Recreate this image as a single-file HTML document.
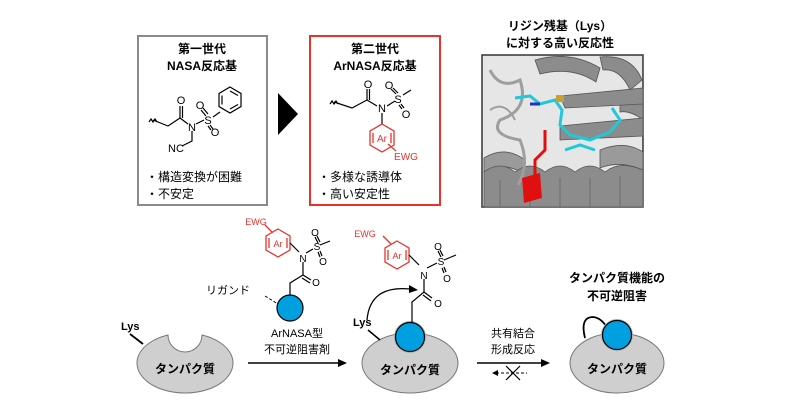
<!DOCTYPE html>
<html><head><meta charset="utf-8"><style>
html,body{margin:0;padding:0;background:#fff;width:800px;height:418px;overflow:hidden}
svg text{font-family:"Liberation Sans","Noto Sans CJK JP",sans-serif}
</style></head><body>
<svg width="800" height="418" viewBox="0 0 800 418" xmlns="http://www.w3.org/2000/svg">
<!-- Box 1 -->
<rect x="138" y="36" width="129" height="169" fill="#fff" stroke="#8a8a8a" stroke-width="2"/>
<text x="202" y="53" font-size="12" font-weight="bold" text-anchor="middle">第一世代</text>
<text x="202" y="70" font-size="12" font-weight="bold" text-anchor="middle">NASA反応基</text>
<g stroke="#000" stroke-width="1.2" fill="none">
<path d="M149,122 l2,-3 l2,3 l2,-3 l2,3"/>
<path d="M153,120 L168,126 L180,118"/>
<path d="M180,118 L180,106 M182.5,118 L182.5,106"/>
<path d="M180,118 L188,124"/>
<path d="M196,124 L204,120"/>
<path d="M192,131 L192,141 L182,146"/>
<path d="M206,116 L201,110 M208,114 L203,108"/>
<path d="M210,125 L213,129 M208,126 L211,130"/>
<path d="M213,117 L220,112"/>
<polygon points="230,87 241,93.5 241,106.5 230,113 219,106.5 219,93.5"/>
<path d="M230,91 L238,95.5 M238,104.5 L230,109 M222,104.5 L222,95.5"/>
</g>
<g font-size="11" text-anchor="middle">
<text x="181" y="104">O</text><text x="192" y="131">N</text><text x="208" y="124">S</text>
<text x="200" y="109">O</text><text x="215" y="136">O</text><text x="176" y="152">NC</text>
</g>
<text x="146" y="181" font-size="12">・構造変換が困難</text>
<text x="146" y="198" font-size="12">・不安定</text>
<!-- triangle -->
<polygon points="278,93 298,114 278,135" fill="#000"/>
<!-- Box 2 -->
<rect x="310" y="36" width="130" height="169" fill="#fff" stroke="#e8322a" stroke-width="2"/>
<text x="375" y="53" font-size="12" font-weight="bold" text-anchor="middle">第二世代</text>
<text x="375" y="70" font-size="12" font-weight="bold" text-anchor="middle">ArNASA反応基</text>
<g stroke="#000" stroke-width="1.2" fill="none">
<path d="M330,104 l2,-3 l2,3 l2,-3 l2,3"/>
<path d="M334,102 L352,108 L367,100"/>
<path d="M367,100 L367,89 M369.5,100 L369.5,89"/>
<path d="M367,100 L377,106"/>
<path d="M387,106 L395,101"/>
<path d="M396,94 L391,89 M398,93 L393,88"/>
<path d="M401,104 L404,108 M399,105 L402,109"/>
<path d="M403,95 L411,90"/>
<path d="M382,113 L382,124"/>
</g>
<g stroke="#e8322a" stroke-width="1.3" fill="none">
<polygon points="382,124 394,131 394,145 382,152 370,145 370,131"/>
<path d="M373,133 L373,143 M391,133 L391,143"/>
<path d="M388,144 L396,151"/>
</g>
<g font-size="11" text-anchor="middle">
<text x="368" y="88">O</text><text x="382" y="112">N</text><text x="398" y="103">S</text>
<text x="389" y="89">O</text><text x="406" y="118">O</text>
</g>
<text x="382" y="142" font-size="10" fill="#e8322a" text-anchor="middle">Ar</text>
<text x="406" y="160" font-size="10" fill="#e8322a" text-anchor="middle">EWG</text>
<text x="318" y="181" font-size="12">・多様な誘導体</text>
<text x="318" y="198" font-size="12">・高い安定性</text>
<!-- protein structure image -->
<text x="560" y="30" font-size="12" font-weight="bold" text-anchor="middle">リジン残基（Lys）</text>
<text x="560" y="47" font-size="12" font-weight="bold" text-anchor="middle">に対する高い反応性</text>
<rect x="482" y="55" width="161" height="152" fill="#e6e6e6" stroke="#333" stroke-width="1.5"/>
<g fill="#8c8c8c" stroke="#555" stroke-width="0.8">
<path d="M535,60 Q570,50 600,68 L596,82 Q572,66 540,74 Z"/>
<path d="M600,57 Q632,54 642,80 L630,90 Q620,68 603,70 Z"/>
<path d="M620,92 Q640,85 643,100 L643,120 Q630,110 620,112 Z"/>
<path d="M560,96 L643,88 L643,104 L565,108 Z"/>
<path d="M560,126 L643,118 L643,136 L560,140 Z"/>
<path d="M484,158 Q505,145 525,160 L525,175 Q505,160 484,172 Z" fill="#9a9a9a"/>
<path d="M484,172 Q500,160 515,172 Q530,160 545,172 Q560,160 575,172 Q590,160 605,172 Q620,160 643,170 L643,207 L484,207 Z"/>
<path d="M600,150 Q625,140 643,152 L643,170 Q620,160 600,168 Z" fill="#9a9a9a"/>
</g>
<g fill="none" stroke="#6c6c6c" stroke-width="1">
<path d="M500,180 L500,207 M530,178 L530,207 M560,178 L560,207 M590,178 L590,207 M620,176 L620,207"/>
</g>
<path d="M490,70 Q500,90 520,80 Q530,110 500,120 Q490,135 520,140 Q530,165 518,185" fill="none" stroke="#9e9e9e" stroke-width="3"/>
<path d="M490,110 Q505,100 515,120" fill="none" stroke="#9e9e9e" stroke-width="2"/>
<path d="M522,178 L540,173 L542,198 L524,203 Z" fill="#e01010"/>
<path d="M535,178 L535,160 L545,150 L545,130" fill="none" stroke="#e01010" stroke-width="3"/>
<g fill="none" stroke="#22c8d8" stroke-width="3">
<path d="M515,98 L530,96 L540,104 L555,100 L562,110 L560,125 L570,135 L590,140 L610,132 L620,120 L612,108"/>
<path d="M565,150 L580,145 L595,150"/>
</g>
<path d="M530,104 L540,104" stroke="#2233bb" stroke-width="3"/>
<rect x="556" y="95" width="8" height="7" fill="#c8a030"/>
<!-- Bottom: left protein -->
<path d="M168,335 A48,30 0 1,0 202,335 A17,17 0 0,1 168,335 Z" fill="#cfcfcf" stroke="#777" stroke-width="1"/>
<text x="121" y="330" font-size="11" font-weight="bold">Lys</text>
<line x1="130" y1="334" x2="143" y2="344" stroke="#000" stroke-width="1.8"/>
<text x="185" y="373" font-size="12" font-weight="bold" text-anchor="middle">タンパク質</text>
<!-- reagent -->
<g stroke="#e8322a" stroke-width="1.3" fill="none">
<polygon points="278,229 290,236 290,250 278,257 266,250 266,236"/>
<path d="M269,238 L269,248 M287,238 L287,248"/>
<path d="M272,232 L265,225"/>
</g>
<text x="278" y="247" font-size="9" fill="#e8322a" text-anchor="middle">Ar</text>
<text x="256" y="225" font-size="9" fill="#e8322a" text-anchor="middle">EWG</text>
<g stroke="#000" stroke-width="1.2" fill="none">
<path d="M290,243 L299,252"/>
<path d="M306,253 L313,249"/>
<path d="M318,243 L315,237 M320,242 L317,236"/>
<path d="M320,251 L322,256 M318,252 L320,257"/>
<path d="M320,245 L330,241"/>
<path d="M303,262 L303,275"/>
<path d="M303,275 L311,280 M302,278 L310,283"/>
<path d="M303,275 L290,283 L290,296"/>
</g>
<g font-size="10" text-anchor="middle">
<text x="303" y="262">N</text><text x="317" y="250">S</text>
<text x="315" y="236">O</text><text x="323" y="265">O</text><text x="316" y="286">O</text>
</g>
<circle cx="290" cy="308" r="13" fill="#00a0e0" stroke="#000" stroke-width="1.2"/>
<text x="206" y="294" font-size="11">リガンド</text>
<line x1="265" y1="296" x2="278" y2="304" stroke="#000" stroke-width="1" stroke-dasharray="3,2"/>
<text x="297" y="337" font-size="11" text-anchor="middle">ArNASA型</text>
<text x="297" y="353" font-size="11" text-anchor="middle">不可逆阻害剤</text>
<line x1="248" y1="363" x2="340" y2="363" stroke="#000" stroke-width="1.5"/>
<polygon points="347,363 338,359 338,367" fill="#000"/>
<!-- middle protein -->
<ellipse cx="410" cy="363" rx="48" ry="30" fill="#cfcfcf" stroke="#777" stroke-width="1"/>
<circle cx="410" cy="337" r="16" fill="#b0b0b0"/>
<circle cx="410" cy="337" r="14.5" fill="#00a0e0" stroke="#000" stroke-width="1.2"/>
<text x="410" y="374" font-size="12" font-weight="bold" text-anchor="middle">タンパク質</text>
<text x="353" y="326" font-size="11" font-weight="bold">Lys</text>
<line x1="368" y1="330" x2="380" y2="340" stroke="#000" stroke-width="1.5"/>
<path d="M367,320 Q370,285 410,289" fill="none" stroke="#000" stroke-width="1.3"/>
<polygon points="418,290 409,285 409,293" fill="#000"/>
<g stroke="#e8322a" stroke-width="1.3" fill="none">
<polygon points="397,241 409,248 409,262 397,269 385,262 385,248"/>
<path d="M388,250 L388,260 M406,250 L406,260"/>
<path d="M391,244 L383,236"/>
</g>
<text x="397" y="259" font-size="9" fill="#e8322a" text-anchor="middle">Ar</text>
<text x="365" y="237" font-size="9" fill="#e8322a" text-anchor="middle">EWG</text>
<g stroke="#000" stroke-width="1.2" fill="none">
<path d="M409,255 L419,265"/>
<path d="M427,268 L437,263"/>
<path d="M441,257 L438,251 M443,256 L440,250"/>
<path d="M444,267 L446,272 M442,268 L444,273"/>
<path d="M444,260 L456,255"/>
<path d="M424,279 L424,292"/>
<path d="M424,292 L432,298 M423,295 L431,301"/>
<path d="M424,292 L412,302 L412,322"/>
</g>
<g font-size="10" text-anchor="middle">
<text x="424" y="279">N</text><text x="441" y="265">S</text>
<text x="438" y="250">O</text><text x="447" y="282">O</text><text x="438" y="307">O</text>
</g>
<!-- right arrows -->
<text x="513" y="337" font-size="11" text-anchor="middle">共有結合</text>
<text x="513" y="353" font-size="11" text-anchor="middle">形成反応</text>
<line x1="477" y1="363" x2="543" y2="363" stroke="#000" stroke-width="1.5"/>
<polygon points="550,363 541,359 541,367" fill="#000"/>
<line x1="496" y1="373" x2="527" y2="373" stroke="#000" stroke-width="1" stroke-dasharray="3,2"/>
<polygon points="492,373 498,370 498,376" fill="#000"/>
<path d="M506,366 L520,380 M520,366 L506,380" stroke="#000" stroke-width="1.2"/>
<!-- right protein -->
<text x="617" y="282" font-size="12" font-weight="bold" text-anchor="middle">タンパク質機能の</text>
<text x="617" y="300" font-size="12" font-weight="bold" text-anchor="middle">不可逆阻害</text>
<ellipse cx="617" cy="363" rx="47" ry="30" fill="#cfcfcf" stroke="#777" stroke-width="1"/>
<path d="M585,338 Q580,318 592,317 Q600,317 606,326" fill="none" stroke="#000" stroke-width="1.8"/>
<circle cx="617" cy="335" r="16" fill="#b0b0b0"/>
<circle cx="617" cy="335" r="14.5" fill="#00a0e0" stroke="#000" stroke-width="1.2"/>
<text x="617" y="373" font-size="12" font-weight="bold" text-anchor="middle">タンパク質</text>
</svg>
</body></html>
